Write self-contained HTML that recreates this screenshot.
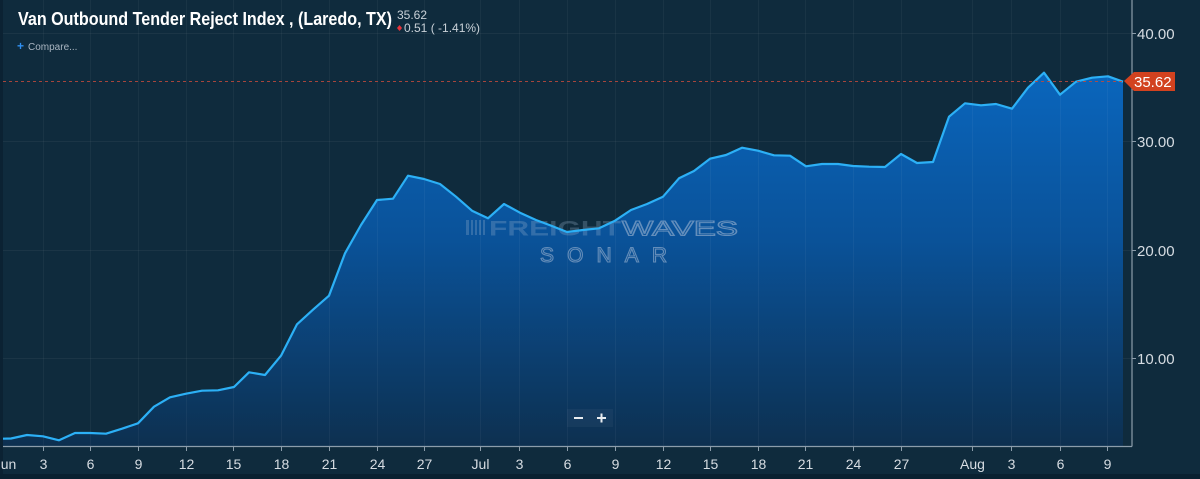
<!DOCTYPE html>
<html>
<head>
<meta charset="utf-8">
<style>
  html,body{margin:0;padding:0;background:#0f2b3d;}
  body{width:1200px;height:479px;overflow:hidden;}
  svg{display:block;}
  text{font-family:"Liberation Sans",sans-serif;}
</style>
</head>
<body>
<svg width="1200" height="479" viewBox="0 0 1200 479" xmlns="http://www.w3.org/2000/svg">
  <defs>
    <linearGradient id="fillg" gradientUnits="userSpaceOnUse" x1="0" y1="70" x2="0" y2="446">
      <stop offset="0" stop-color="#0a66bd"/>
      <stop offset="0.45" stop-color="#0a5299"/>
      <stop offset="1" stop-color="#0d3050"/>
    </linearGradient>
  </defs>
  <rect x="0" y="0" width="1200" height="479" fill="#0f2b3d"/>
  <rect x="0" y="0" width="3" height="479" fill="#0b2233"/>
  <rect x="0" y="474" width="1200" height="5" fill="#0a2131"/>

  <!-- horizontal gridlines -->
  <g stroke="#ffffff" stroke-opacity="0.05" stroke-width="1">
    <line x1="3" y1="33.5" x2="1132" y2="33.5"/>
    <line x1="3" y1="141.5" x2="1132" y2="141.5"/>
    <line x1="3" y1="250.5" x2="1132" y2="250.5"/>
    <line x1="3" y1="358.5" x2="1132" y2="358.5"/>
  </g>

  <!-- area fill -->
  <path fill="url(#fillg)" d="M3,438.7 L11,438.5 L27,435 L43,436.3 L59,440.3 L75,433 L90,433 L106,433.7 L122,428.7 L138,423.3 L154,406.7 L170,397.3 L186,393.7 L202,390.7 L218,390.3 L234,387 L249,372.3 L265,375 L281,355.7 L297,324.3 L313,309.7 L329,295.7 L345,253.3 L361,225 L377,200 L393,198.7 L408,175.7 L424,179 L440,184 L456,196.7 L472,210.7 L488,218.3 L504,204 L520,212.7 L536,220 L552,226 L567,232 L583,230 L599,228.3 L615,220.7 L631,210 L647,204 L663,196.7 L679,178.3 L694,171 L710,158.7 L726,155 L742,147.7 L758,150.7 L774,155.3 L790,155.7 L806,166.3 L822,164 L838,164 L853,166 L869,166.7 L885,167 L901,154 L917,163 L933,162 L949,116.7 L965,103.3 L981,105.3 L996,104 L1012,108.7 L1028,87.7 L1044,72.7 L1060,94.7 L1076,81.7 L1092,77.7 L1108,76.3 L1123,81.7 L1123,446 L3,446 Z"/>

  <!-- vertical gridlines -->
  <g stroke="#ffffff" stroke-opacity="0.045" stroke-width="1">
    <line x1="43.5" y1="0" x2="43.5" y2="446"/>
    <line x1="90.5" y1="0" x2="90.5" y2="446"/>
    <line x1="138.5" y1="0" x2="138.5" y2="446"/>
    <line x1="186.5" y1="0" x2="186.5" y2="446"/>
    <line x1="233.5" y1="0" x2="233.5" y2="446"/>
    <line x1="281.5" y1="0" x2="281.5" y2="446"/>
    <line x1="329.5" y1="0" x2="329.5" y2="446"/>
    <line x1="377.5" y1="0" x2="377.5" y2="446"/>
    <line x1="424.5" y1="0" x2="424.5" y2="446"/>
    <line x1="480.5" y1="0" x2="480.5" y2="446"/>
    <line x1="519.5" y1="0" x2="519.5" y2="446"/>
    <line x1="567.5" y1="0" x2="567.5" y2="446"/>
    <line x1="615.5" y1="0" x2="615.5" y2="446"/>
    <line x1="663.5" y1="0" x2="663.5" y2="446"/>
    <line x1="710.5" y1="0" x2="710.5" y2="446"/>
    <line x1="758.5" y1="0" x2="758.5" y2="446"/>
    <line x1="805.5" y1="0" x2="805.5" y2="446"/>
    <line x1="853.5" y1="0" x2="853.5" y2="446"/>
    <line x1="901.5" y1="0" x2="901.5" y2="446"/>
    <line x1="972.5" y1="0" x2="972.5" y2="446"/>
    <line x1="1011.5" y1="0" x2="1011.5" y2="446"/>
    <line x1="1060.5" y1="0" x2="1060.5" y2="446"/>
    <line x1="1107.5" y1="0" x2="1107.5" y2="446"/>
  </g>

  <!-- watermark -->
  <g fill="#9fb6d2" fill-opacity="0.28">
    <rect x="466" y="220" width="3" height="15"/>
    <rect x="471" y="220" width="2" height="15"/>
    <rect x="475" y="220" width="2" height="15"/>
    <rect x="479" y="220" width="2" height="15"/>
    <rect x="483" y="220" width="2" height="15"/>
    <text x="489" y="235.5" font-size="21" font-weight="bold" textLength="132" lengthAdjust="spacingAndGlyphs">FREIGHT</text>
    <text x="622" y="235.5" font-size="21" textLength="116" lengthAdjust="spacingAndGlyphs" fill="none" stroke="#9fb6d2" stroke-opacity="0.6" stroke-width="1.1">WAVES</text>
    <text x="540" y="262" font-size="21" textLength="127" lengthAdjust="spacing" fill="none" stroke="#9fb6d2" stroke-opacity="0.6" stroke-width="1.1">SONAR</text>
  </g>

  <!-- series line -->
  <path fill="none" stroke="#2cb0f6" stroke-width="2.2" stroke-linejoin="round" d="M3,438.7 L11,438.5 L27,435 L43,436.3 L59,440.3 L75,433 L90,433 L106,433.7 L122,428.7 L138,423.3 L154,406.7 L170,397.3 L186,393.7 L202,390.7 L218,390.3 L234,387 L249,372.3 L265,375 L281,355.7 L297,324.3 L313,309.7 L329,295.7 L345,253.3 L361,225 L377,200 L393,198.7 L408,175.7 L424,179 L440,184 L456,196.7 L472,210.7 L488,218.3 L504,204 L520,212.7 L536,220 L552,226 L567,232 L583,230 L599,228.3 L615,220.7 L631,210 L647,204 L663,196.7 L679,178.3 L694,171 L710,158.7 L726,155 L742,147.7 L758,150.7 L774,155.3 L790,155.7 L806,166.3 L822,164 L838,164 L853,166 L869,166.7 L885,167 L901,154 L917,163 L933,162 L949,116.7 L965,103.3 L981,105.3 L996,104 L1012,108.7 L1028,87.7 L1044,72.7 L1060,94.7 L1076,81.7 L1092,77.7 L1108,76.3 L1123,81.7"/>

  <!-- dashed last value line -->
  <line x1="3" y1="81.5" x2="1124" y2="81.5" stroke="#c04a3c" stroke-opacity="0.85" stroke-width="1" stroke-dasharray="3,3"/>

  <!-- axes -->
  <line x1="1132" y1="0" x2="1132" y2="446.5" stroke="#8c9dab" stroke-width="1.2"/>
  <line x1="3" y1="446.5" x2="1132" y2="446.5" stroke="#8c9dab" stroke-width="1.2"/>

  <!-- x ticks -->
  <g stroke="#8c9dab" stroke-width="1">
    <line x1="43.5" y1="446" x2="43.5" y2="451"/>
    <line x1="90.5" y1="446" x2="90.5" y2="451"/>
    <line x1="138.5" y1="446" x2="138.5" y2="451"/>
    <line x1="186.5" y1="446" x2="186.5" y2="451"/>
    <line x1="233.5" y1="446" x2="233.5" y2="451"/>
    <line x1="281.5" y1="446" x2="281.5" y2="451"/>
    <line x1="329.5" y1="446" x2="329.5" y2="451"/>
    <line x1="377.5" y1="446" x2="377.5" y2="451"/>
    <line x1="424.5" y1="446" x2="424.5" y2="451"/>
    <line x1="480.5" y1="446" x2="480.5" y2="451"/>
    <line x1="519.5" y1="446" x2="519.5" y2="451"/>
    <line x1="567.5" y1="446" x2="567.5" y2="451"/>
    <line x1="615.5" y1="446" x2="615.5" y2="451"/>
    <line x1="663.5" y1="446" x2="663.5" y2="451"/>
    <line x1="710.5" y1="446" x2="710.5" y2="451"/>
    <line x1="758.5" y1="446" x2="758.5" y2="451"/>
    <line x1="805.5" y1="446" x2="805.5" y2="451"/>
    <line x1="853.5" y1="446" x2="853.5" y2="451"/>
    <line x1="901.5" y1="446" x2="901.5" y2="451"/>
    <line x1="972.5" y1="446" x2="972.5" y2="451"/>
    <line x1="1011.5" y1="446" x2="1011.5" y2="451"/>
    <line x1="1060.5" y1="446" x2="1060.5" y2="451"/>
    <line x1="1107.5" y1="446" x2="1107.5" y2="451"/>
  </g>

  <!-- x labels -->
  <g fill="#d6dce2" font-size="14" text-anchor="middle">
    <text x="5" y="469">Jun</text>
    <text x="43.5" y="469">3</text>
    <text x="90.5" y="469">6</text>
    <text x="138.5" y="469">9</text>
    <text x="186.5" y="469">12</text>
    <text x="233.5" y="469">15</text>
    <text x="281.5" y="469">18</text>
    <text x="329.5" y="469">21</text>
    <text x="377.5" y="469">24</text>
    <text x="424.5" y="469">27</text>
    <text x="480.5" y="469">Jul</text>
    <text x="519.5" y="469">3</text>
    <text x="567.5" y="469">6</text>
    <text x="615.5" y="469">9</text>
    <text x="663.5" y="469">12</text>
    <text x="710.5" y="469">15</text>
    <text x="758.5" y="469">18</text>
    <text x="805.5" y="469">21</text>
    <text x="853.5" y="469">24</text>
    <text x="901.5" y="469">27</text>
    <text x="972.5" y="469">Aug</text>
    <text x="1011.5" y="469">3</text>
    <text x="1060.5" y="469">6</text>
    <text x="1107.5" y="469">9</text>
  </g>

  <!-- y ticks & labels -->
  <g stroke="#8c9dab" stroke-width="1">
    <line x1="1132" y1="33.5" x2="1136" y2="33.5"/>
    <line x1="1132" y1="141.5" x2="1136" y2="141.5"/>
    <line x1="1132" y1="250.5" x2="1136" y2="250.5"/>
    <line x1="1132" y1="358.5" x2="1136" y2="358.5"/>
  </g>
  <g fill="#d6dce2" font-size="15">
    <text x="1137" y="39">40.00</text>
    <text x="1137" y="147">30.00</text>
    <text x="1137" y="256">20.00</text>
    <text x="1137" y="364">10.00</text>
  </g>

  <!-- last value label -->
  <path d="M1124,81 L1134,72 L1175,72 L1175,91 L1134,91 Z" fill="#d2421f"/>
  <text x="1134" y="87" font-size="15" fill="#ffffff">35.62</text>

  <!-- zoom buttons -->
  <rect x="567" y="409" width="46" height="18" fill="#ffffff" fill-opacity="0.04"/>
  <rect x="574" y="417" width="9" height="2" fill="#e8ecf0"/>
  <rect x="597" y="417" width="9" height="2" fill="#e8ecf0"/>
  <rect x="600.5" y="413.5" width="2" height="9" fill="#e8ecf0"/>

  <!-- title -->
  <text x="18" y="25" font-size="18" font-weight="bold" fill="#ffffff" textLength="374" lengthAdjust="spacingAndGlyphs" style="font-family:'Liberation Sans Narrow','Liberation Sans',sans-serif">Van Outbound Tender Reject Index , (Laredo, TX)</text>
  <text x="397" y="19" font-size="12" fill="#c9d1d8">35.62</text>
  <path d="M399.5,25 L402,28 L399.5,31 L397,28 Z" fill="#e8343b"/>
  <text x="404" y="32" font-size="12" fill="#c9d1d8">0.51 ( -1.41%)</text>
  <text x="17" y="50" font-size="12" font-weight="bold" fill="#2f8ff0">+</text>
  <text x="28" y="50" font-size="10" fill="#aab6c2">Compare...</text>
</svg>
</body>
</html>
